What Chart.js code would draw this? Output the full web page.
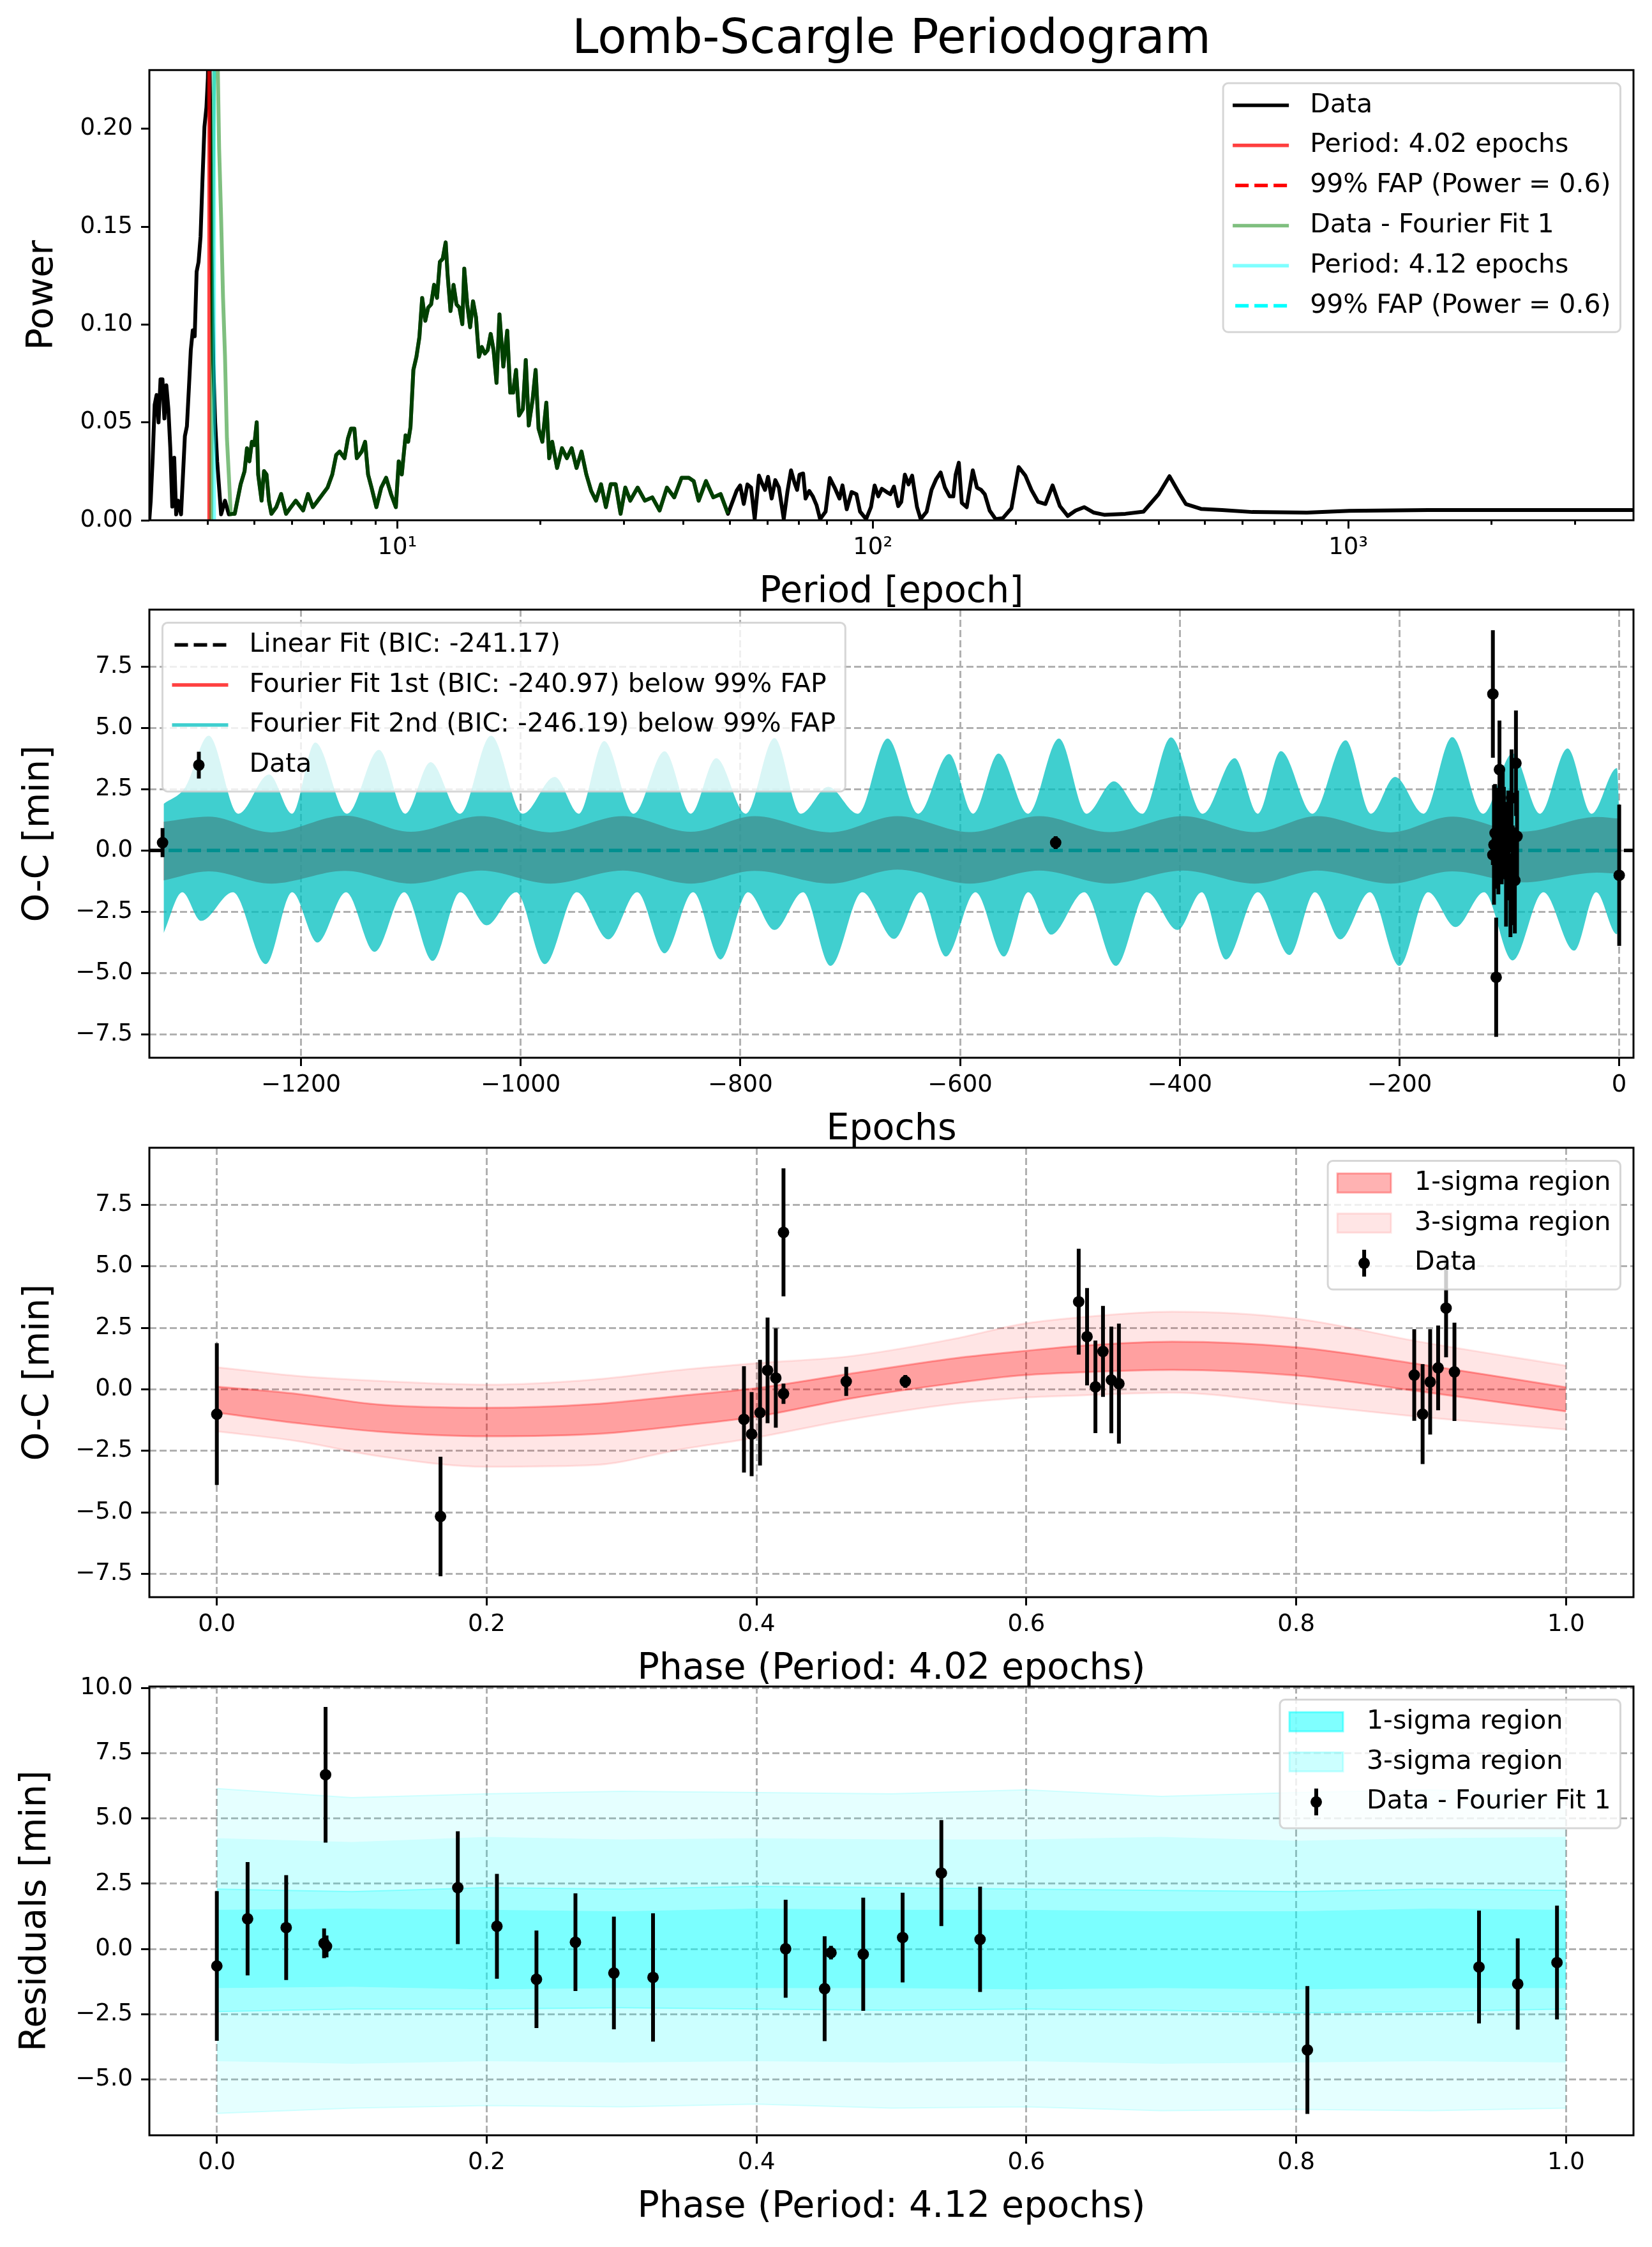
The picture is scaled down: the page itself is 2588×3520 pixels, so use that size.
<!DOCTYPE html>
<html>
<head>
<meta charset="utf-8">
<title>Lomb-Scargle Periodogram</title>
<script src="https://cdn.jsdelivr.net/npm/chart.js@4.4.1/dist/chart.umd.min.js"></script>
<style>
  body { margin: 0; background: #fff; }
  #page { position: relative; width: 2588px; height: 3520px; background: #fff; }
  canvas { position: absolute; left: 0; }
</style>
</head>
<body>
<div id="page">
  <canvas id="c1" width="2588" height="965" style="top:0px"></canvas>
  <canvas id="c2" width="2588" height="892" style="top:915px"></canvas>
  <canvas id="c3" width="2588" height="894" style="top:1758px"></canvas>
  <canvas id="c4" width="2588" height="893" style="top:2602px"></canvas>
</div>
<script>
// ---- periodogram ----
// black "Data" curve below ~4.5 epochs
const dataHeadPeriod = [3.009, 3.030, 3.059, 3.088, 3.117, 3.147, 3.177, 3.207, 3.237, 3.268, 3.300, 3.331, 3.363, 3.395, 3.427, 3.459, 3.509, 3.575, 3.610, 3.644, 3.679, 3.714, 3.749, 3.784, 3.820, 3.857, 3.893, 3.930, 3.968, 3.996, 4.017, 4.044, 4.063, 4.102, 4.140, 4.180, 4.260, 4.341, 4.423];
const dataHeadPower = [0.000, 0.010, 0.032, 0.059, 0.064, 0.050, 0.072, 0.072, 0.052, 0.069, 0.057, 0.037, 0.007, 0.032, 0.003, 0.010, 0.003, 0.043, 0.048, 0.067, 0.087, 0.097, 0.094, 0.127, 0.132, 0.145, 0.174, 0.201, 0.211, 0.226, 0.260, 0.200, 0.140, 0.080, 0.050, 0.030, 0.003, 0.010, 0.003];
// green "Data - Fourier Fit 1" spike near 4.12
const residHeadPeriod = [4.063, 4.102, 4.140, 4.180, 4.220, 4.260, 4.300, 4.341, 4.382, 4.423, 4.465];
const residHeadPower = [0.000, 0.200, 0.260, 0.250, 0.190, 0.155, 0.114, 0.084, 0.042, 0.023, 0.003];
// part where both curves lie on top of each other
const sharedPeriod = [4.508, 4.551, 4.683, 4.773, 4.829, 4.886, 4.945, 5.004, 5.062, 5.098, 5.183, 5.245, 5.308, 5.370, 5.435, 5.564, 5.698, 5.834, 5.973, 6.116, 6.338, 6.490, 6.644, 6.803, 6.967, 7.134, 7.299, 7.439, 7.563, 7.745, 7.874, 7.991, 8.123, 8.220, 8.416, 8.557, 8.680, 8.826, 9.036, 9.251, 9.473, 9.700, 9.93, 10.07, 10.22, 10.41, 10.54, 10.66, 10.81, 10.97, 11.13, 11.28, 11.45, 11.61, 11.78, 11.95, 12.12, 12.29, 12.46, 12.64, 12.76, 12.94, 13.13, 13.32, 13.51, 13.70, 13.83, 14.03, 14.23, 14.43, 14.64, 14.85, 15.06, 15.28, 15.49, 15.72, 15.94, 16.17, 16.40, 16.71, 17.03, 17.28, 17.52, 17.77, 18.03, 18.37, 18.63, 18.90, 19.26, 19.54, 19.82, 20.19, 20.58, 20.87, 21.17, 21.68, 22.20, 22.73, 23.27, 23.82, 24.40, 24.98, 25.57, 26.18, 26.82, 27.46, 28.11, 28.79, 29.48, 30.17, 30.90, 32.02, 33.17, 34.38, 35.62, 36.90, 38.23, 39.61, 41.04, 42.02, 43.03, 44.59, 46.19, 47.86, 49.60];
const sharedPower = [0.0033, 0.0033, 0.0184, 0.0251, 0.0368, 0.0301, 0.0401, 0.0384, 0.0501, 0.0234, 0.010, 0.0251, 0.0234, 0.010, 0.0033, 0.0067, 0.0134, 0.0033, 0.0067, 0.010, 0.005, 0.0134, 0.0067, 0.010, 0.0134, 0.0167, 0.0234, 0.0334, 0.0351, 0.0317, 0.0418, 0.0468, 0.0468, 0.0317, 0.0351, 0.0401, 0.0234, 0.0167, 0.0067, 0.0167, 0.0217, 0.0134, 0.0067, 0.0301, 0.0234, 0.0434, 0.0401, 0.0476, 0.0768, 0.0835, 0.0936, 0.1136, 0.1019, 0.1086, 0.1103, 0.1203, 0.1136, 0.1320, 0.1336, 0.1420, 0.1253, 0.1069, 0.1203, 0.1103, 0.1086, 0.1002, 0.1286, 0.1103, 0.0986, 0.1119, 0.1036, 0.0835, 0.0885, 0.0852, 0.0869, 0.0952, 0.0869, 0.0702, 0.1052, 0.0785, 0.0969, 0.0652, 0.0652, 0.0768, 0.0535, 0.0568, 0.0819, 0.0484, 0.0618, 0.0768, 0.0468, 0.0401, 0.0601, 0.0317, 0.0401, 0.0267, 0.0368, 0.0317, 0.0368, 0.0267, 0.0351, 0.0234, 0.0150, 0.010, 0.0184, 0.0067, 0.0184, 0.0184, 0.0033, 0.0167, 0.010, 0.0167, 0.010, 0.0117, 0.005, 0.0167, 0.0117, 0.0217, 0.0217, 0.020, 0.010, 0.020, 0.0117, 0.0134, 0.0033];
// black curve beyond ~50 epochs
const dataTailPeriod = [51.70, 52.61, 53.54, 54.50, 55.46, 56.45, 57.62, 58.47, 59.33, 60.21, 61.28, 62.37, 63.47, 64.98, 66.13, 67.31, 68.50, 69.32, 70.13, 71.37, 72.22, 73.51, 74.81, 76.14, 77.49, 79.57, 81.21, 83.14, 85.11, 86.36, 88.15, 90.25, 92.38, 94.04, 96.83, 99.13, 100.9, 102.7, 104.5, 107.0, 108.9, 110.8, 113.1, 114.8, 116.8, 118.9, 121.0, 123.9, 126.1, 129.8, 132.9, 136.0, 138.9, 141.8, 145.1, 147.7, 149.4, 151.7, 153.9, 157.6, 162.3, 165.6, 169.0, 172.0, 176.1, 181.3, 187.8, 195.7, 202.7, 209.4, 215.6, 222.7, 230.7, 238.9, 247.5, 257.1, 267.1, 278.3, 291.7, 306.6, 339.8, 371.0, 399.1, 420.7, 442.3, 455.4, 490.0, 543.0, 628.8, 818.8, 1005, 1472, 3980];
const dataTailPower = [0.0150, 0.0178, 0.0083, 0.0183, 0.0167, 0.0006, 0.0228, 0.0189, 0.0155, 0.0222, 0.0111, 0.0205, 0.0167, 0.0006, 0.0144, 0.0255, 0.0189, 0.0155, 0.0233, 0.0239, 0.0111, 0.0150, 0.0122, 0.0078, 0.0006, 0.0044, 0.0216, 0.0167, 0.0111, 0.0178, 0.0056, 0.0144, 0.0133, 0.0044, 0.0006, 0.0067, 0.0178, 0.0122, 0.0161, 0.0144, 0.0133, 0.0172, 0.0072, 0.0094, 0.0233, 0.0183, 0.0228, 0.0067, 0.0006, 0.0044, 0.0155, 0.0211, 0.0244, 0.0167, 0.0122, 0.0122, 0.0233, 0.0294, 0.0089, 0.0067, 0.0255, 0.0167, 0.0155, 0.0133, 0.0050, 0.0006, 0.0011, 0.0061, 0.0272, 0.0228, 0.0155, 0.0094, 0.0083, 0.0178, 0.0072, 0.0022, 0.0050, 0.0067, 0.0039, 0.0028, 0.0033, 0.0044, 0.0133, 0.0225, 0.0133, 0.0083, 0.0058, 0.0052, 0.0042, 0.0039, 0.0048, 0.0052, 0.0052];
const bestPeriod1 = 4.02;
const bestPeriod2 = 4.12;
const fapPower = 0.6;

// ---- timing residuals ----
const obsEpoch = [0, -93, -94, -95, -97, -98, -99, -101, -102, -103, -105, -106, -107, -109, -110, -111, -112, -113, -114, -115, -115, -513, -1326];
const obsOC = [-1.01, 0.58, 3.56, -1.22, -1.01, 2.14, -1.82, 0.30, 0.10, -0.95, 0.87, 1.54, 0.77, 3.30, 0.38, 0.46, -5.17, 0.71, 0.23, 6.38, -0.18, 0.32, 0.32];
const obsErr = [2.88, 1.86, 2.15, 2.16, 2.03, 1.98, 1.71, 2.14, 1.88, 2.15, 1.72, 1.85, 2.15, 2.00, 2.17, 2.02, 2.43, 2.00, 2.44, 2.60, 0.41, 0.26, 0.59];
const obsPhase1 = [0.0, 0.8875, 0.6388, 0.3907, 0.8937, 0.6450, 0.3964, 0.8993, 0.6512, 0.4026, 0.9052, 0.6568, 0.4082, 0.9111, 0.6630, 0.4143, 0.1658, 0.9173, 0.6686, 0.4200, 0.4200, 0.5103, 0.4665];

// Fourier fit 1 (red) envelope vs epoch
const fit1Epoch = [-1325, -1284, -1227, -1160, -1100, -1036, -973, -907, -845, -787, -718, -657, -591, -528, -464, -397, -332, -275, -208, -152, -88, -20, 0];
const fit1Top = [1.17, 1.38, 0.74, 1.42, 0.76, 1.40, 0.74, 1.40, 0.76, 1.40, 0.74, 1.40, 0.75, 1.40, 0.75, 1.40, 0.75, 1.40, 0.74, 1.38, 0.77, 1.37, 1.30];
const fit1Bottom = [-1.22, -0.85, -1.35, -0.83, -1.35, -0.82, -1.35, -0.82, -1.35, -0.83, -1.35, -0.78, -1.35, -0.82, -1.35, -0.82, -1.35, -0.82, -1.35, -0.85, -1.30, -0.90, -0.95];
// Fourier fit 2 (cyan) envelope vs epoch
const fit2TopEpoch = [-1325, -1305, -1284, -1257, -1229, -1208, -1187, -1158, -1129, -1105, -1082, -1055, -1027, -998, -969, -947, -924, -897, -869, -845, -822, -795, -769, -745, -720, -693, -666, -638, -610, -588, -565, -538, -510, -485, -460, -434, -408, -379, -350, -329, -308, -279, -249, -226, -204, -178, -152, -124, -97, -72, -47, -25, -2, 0];
const fit2Top = [1.9, 2.6, 4.68, 1.5, 3.1, 1.5, 4.4, 1.5, 4.1, 1.5, 3.6, 1.5, 4.68, 1.5, 3.0, 1.5, 4.46, 1.5, 4.04, 1.5, 3.76, 1.5, 4.58, 1.5, 2.6, 1.5, 4.56, 1.5, 3.93, 1.5, 3.95, 1.5, 4.56, 1.5, 2.82, 1.5, 4.61, 1.5, 3.76, 1.5, 4.05, 1.5, 4.49, 1.5, 3.0, 1.5, 4.62, 1.5, 3.96, 1.5, 4.16, 1.5, 3.36, 1.6];
const fit2BottomEpoch = [-1325, -1308, -1291, -1262, -1232, -1208, -1185, -1159, -1133, -1106, -1080, -1055, -1031, -1004, -978, -949, -920, -894, -869, -843, -818, -793, -769, -743, -718, -689, -660, -636, -613, -586, -560, -538, -517, -487, -458, -430, -402, -380, -358, -329, -300, -277, -254, -227, -200, -174, -149, -123, -97, -69, -41, -21, -2, 0];
const fit2Bottom = [-3.37, -1.7, -2.87, -1.7, -4.63, -1.7, -3.75, -1.7, -4.13, -1.7, -4.5, -1.7, -3.05, -1.7, -4.63, -1.7, -3.62, -1.7, -4.19, -1.7, -4.44, -1.7, -3.24, -1.7, -4.7, -1.7, -3.6, -1.7, -4.32, -1.7, -4.32, -1.7, -3.43, -1.7, -4.7, -1.7, -3.24, -1.7, -4.44, -1.7, -4.26, -1.7, -3.62, -1.7, -4.7, -1.7, -3.12, -1.7, -4.48, -1.7, -4.08, -1.7, -3.41, -1.8];

// phase-folded model bands (period 4.02)
const bandPhase1 = [0, 0.06, 0.12, 0.2, 0.28, 0.344, 0.40, 0.47, 0.548, 0.595, 0.64, 0.708, 0.80, 0.891, 1.0];
const sig1Upper = [0.11, -0.19, -0.62, -0.75, -0.60, -0.26, 0.05, 0.64, 1.27, 1.54, 1.77, 1.94, 1.71, 1.02, 0.08];
const sig1Lower = [-0.95, -1.38, -1.72, -1.91, -1.82, -1.48, -1.11, -0.37, 0.26, 0.56, 0.69, 0.79, 0.56, -0.08, -0.90];
const sig3Upper = [0.90, 0.54, 0.34, 0.19, 0.40, 0.79, 1.06, 1.35, 2.07, 2.64, 2.93, 3.16, 2.87, 1.94, 0.96];
const sig3Lower = [-1.71, -2.11, -2.72, -3.15, -3.08, -2.44, -1.96, -1.22, -0.58, -0.35, -0.25, -0.14, -0.60, -1.12, -1.64];

// residuals after fit 1, folded on period 4.12
const resPhase = [0.0, 0.0228, 0.0514, 0.0806, 0.0795, 0.0813, 0.1786, 0.2076, 0.2369, 0.2658, 0.2943, 0.3233, 0.4216, 0.4505, 0.4552, 0.4791, 0.5083, 0.537, 0.5657, 0.8083, 0.9355, 0.9642, 0.9933];
const resValue = [-0.65, 1.16, 0.82, 6.68, 0.22, 0.10, 2.35, 0.87, -1.16, 0.26, -0.92, -1.09, 0.01, -1.52, -0.14, -0.20, 0.44, 2.91, 0.37, -3.87, -0.69, -1.34, -0.52];
const resErr = [2.87, 2.17, 2.01, 2.60, 0.57, 0.42, 2.16, 2.01, 1.87, 1.87, 2.16, 2.46, 1.88, 2.01, 0.26, 2.17, 1.72, 2.03, 2.02, 2.45, 2.16, 1.75, 2.18];
// residual model bands: inner (solid) and outer (ragged) edges
const bandPhase2 = [0, 0.1, 0.2, 0.3, 0.4, 0.5, 0.6, 0.7, 0.8, 0.9, 1.0];
const r3UpOuter = [6.15, 5.80, 5.95, 6.05, 6.00, 5.95, 6.10, 5.85, 6.00, 6.10, 5.90];
const r3UpInner = [4.25, 4.10, 4.30, 4.20, 4.25, 4.20, 4.20, 4.30, 4.15, 4.25, 4.30];
const r3LoInner = [-4.30, -4.40, -4.30, -4.35, -4.30, -4.35, -4.30, -4.40, -4.35, -4.30, -4.35];
const r3LoOuter = [-6.30, -6.10, -6.00, -6.05, -5.95, -6.10, -6.05, -6.20, -6.15, -6.20, -6.10];
const r1UpOuter = [2.30, 2.20, 2.35, 2.30, 2.40, 2.35, 2.30, 2.25, 2.20, 2.30, 2.25];
const r1UpInner = [1.50, 1.55, 1.50, 1.45, 1.55, 1.50, 1.50, 1.45, 1.45, 1.55, 1.50];
const r1LoInner = [-1.50, -1.45, -1.55, -1.50, -1.50, -1.50, -1.55, -1.50, -1.55, -1.50, -1.50];
const r1LoOuter = [-2.40, -2.30, -2.30, -2.25, -2.30, -2.35, -2.30, -2.35, -2.45, -2.40, -2.30];

// ---- ticks ----
const periodMajor = [10, 100, 1000];
const periodMinor = [4, 5, 6, 7, 8, 9, 20, 30, 40, 50, 60, 70, 80, 90, 200, 300, 400, 500, 600, 700, 800, 900, 2000, 3000];
const periodLabels = {10: '10\u00b9', 100: '10\u00b2', 1000: '10\u00b3'};
const powerTicks = [0, 0.05, 0.10, 0.15, 0.20];
const epochTicks = [-1200, -1000, -800, -600, -400, -200, 0];
const ocTicks = [-7.5, -5.0, -2.5, 0.0, 2.5, 5.0, 7.5];
const phaseTicks = [0, 0.2, 0.4, 0.6, 0.8, 1.0];
const resTicks = [-5.0, -2.5, 0.0, 2.5, 5.0, 7.5, 10.0];

Chart.defaults.font.family = '"DejaVu Sans", sans-serif';
Chart.defaults.font.size = 37;
Chart.defaults.color = '#000';

const pts = (xs, ys) => xs.map((x, i) => ({x: x, y: ys[i]}));
function errSegs(xs, ys, es) {
  const out = [];
  xs.forEach((x, i) => {
    out.push({x: x, y: ys[i] - es[i]}, {x: x, y: ys[i] + es[i]}, {x: x, y: null});
  });
  return out;
}
const fmt = (v, d) => (v < -1e-9 ? '\u2212' : '') + Math.abs(v).toFixed(d);

// spines on all four sides
const framePlugin = {
  id: 'frame',
  afterDatasetsDraw(chart) {
    const a = chart.chartArea, ctx = chart.ctx;
    ctx.save();
    ctx.strokeStyle = '#000';
    ctx.lineWidth = 3;
    ctx.strokeRect(a.left, a.top, a.right - a.left, a.bottom - a.top);
    ctx.restore();
  }
};

// matplotlib-like legend box
const legends = {};
const legendPlugin = {
  id: 'mplLegend',
  afterDraw(chart) {
    const cfg = legends[chart.canvas.id];
    if (!cfg) return;
    const ctx = chart.ctx, a = chart.chartArea;
    const pad = 15, handleW = 88, gap = 33, pitch = 62.8;
    ctx.save();
    ctx.font = '41px "DejaVu Sans"';
    let tw = 0;
    cfg.items.forEach(it => { tw = Math.max(tw, ctx.measureText(it.label).width); });
    const w = pad + handleW + gap + tw + pad;
    const h = 76 + (cfg.items.length - 1) * pitch;
    const x0 = cfg.loc === 'upper left' ? a.left + 20.5 : a.right - 20.5 - w;
    const y0 = a.top + 20.5;
    const r = 8;
    ctx.beginPath();
    ctx.moveTo(x0 + r, y0);
    ctx.arcTo(x0 + w, y0, x0 + w, y0 + h, r);
    ctx.arcTo(x0 + w, y0 + h, x0, y0 + h, r);
    ctx.arcTo(x0, y0 + h, x0, y0, r);
    ctx.arcTo(x0, y0, x0 + w, y0, r);
    ctx.closePath();
    ctx.fillStyle = 'rgba(255,255,255,0.8)';
    ctx.fill();
    ctx.lineWidth = 3;
    ctx.strokeStyle = 'rgba(204,204,204,0.8)';
    ctx.stroke();
    cfg.items.forEach((it, i) => {
      const cy = y0 + 34.7 + i * pitch;
      const hx = x0 + pad;
      ctx.save();
      if (it.type === 'line') {
        ctx.strokeStyle = it.color;
        ctx.lineWidth = 5.5;
        ctx.setLineDash(it.dash || []);
        ctx.beginPath();
        ctx.moveTo(hx + (it.dash ? 4 : 0), cy);
        ctx.lineTo(hx + handleW, cy);
        ctx.stroke();
      } else if (it.type === 'patch') {
        ctx.fillStyle = it.color;
        ctx.fillRect(hx, cy - 15, 84, 30);
        ctx.strokeStyle = it.color;
        ctx.lineWidth = 3;
        ctx.strokeRect(hx, cy - 15, 84, 30);
      } else {
        ctx.strokeStyle = '#000';
        ctx.lineWidth = 6;
        ctx.beginPath();
        ctx.moveTo(hx + 42, cy - 21);
        ctx.lineTo(hx + 42, cy + 21);
        ctx.stroke();
        ctx.fillStyle = '#000';
        ctx.beginPath();
        ctx.arc(hx + 42, cy, 9, 0, Math.PI * 2);
        ctx.fill();
      }
      ctx.restore();
      ctx.fillStyle = '#000';
      ctx.textAlign = 'left';
      ctx.textBaseline = 'middle';
      ctx.fillText(it.label, hx + handleW + gap, cy);
    });
    ctx.restore();
  }
};

function xAxis(o) {
  return {
    type: o.type || 'linear', position: 'bottom', min: o.min, max: o.max,
    afterFit: s => { s.height = 150; },
    afterBuildTicks: s => { s.ticks = o.ticks.map(v => ({value: v})); },
    grid: {
      drawOnChartArea: o.grid, drawTicks: true, tickLength: 13, tickColor: '#000', tickWidth: 3,
      color: '#b0b0b0', lineWidth: 3,
      tickBorderDash: o.tickDash || []
    },
    border: {display: false, dash: [11, 5]},
    ticks: {font: {size: 37}, padding: 8, maxRotation: 0, minRotation: 0, autoSkip: false, callback: o.label},
    title: {display: true, text: o.title, font: {size: 57}, padding: {top: 0, bottom: 3}}
  };
}
function yAxis(o) {
  return {
    type: 'linear', position: 'left', min: o.min, max: o.max,
    afterFit: s => { s.width = 234; },
    afterBuildTicks: s => { s.ticks = o.ticks.map(v => ({value: v})); },
    grid: {
      drawOnChartArea: o.grid, drawTicks: true, tickLength: 13, tickColor: '#000', tickWidth: 3,
      color: '#b0b0b0', lineWidth: 3
    },
    border: {display: false, dash: [11, 5]},
    ticks: {font: {size: 37}, padding: 13, autoSkip: false, callback: o.label},
    title: {display: true, text: o.title, font: {size: 57}, padding: {top: o.titlePad, bottom: 0}}
  };
}
function baseOptions(scales, topPad, extraPlugins) {
  return {
    responsive: false, animation: false, devicePixelRatio: 1, events: [],
    layout: {padding: {top: topPad, right: 29, bottom: 0, left: 0}, autoPadding: false},
    elements: {point: {radius: 0}, line: {borderJoinStyle: 'round'}},
    plugins: Object.assign({legend: {display: false}, tooltip: {enabled: false}}, extraPlugins || {}),
    scales: scales
  };
}
const lineDs = (data, color, width, order, extra) => Object.assign({
  type: 'line', data: data, borderColor: color, borderWidth: width, pointRadius: 0, fill: false, order: order
}, extra || {});
const bandEdge = (data, fillColor, edgeColor, edgeWidth, fill, order, extra) => Object.assign({
  type: 'line', data: data, borderColor: edgeColor, borderWidth: edgeWidth, pointRadius: 0,
  backgroundColor: fillColor, fill: fill, order: order
}, extra || {});
const errDs = (data) => ({type: 'line', data: data, borderColor: '#000', borderWidth: 6, pointRadius: 0, spanGaps: false, fill: false, borderCapStyle: 'butt', order: 2});
const dotDs = (data) => ({type: 'line', data: data, showLine: false, pointRadius: 9, pointBackgroundColor: '#000', pointBorderWidth: 0, order: 1});
const smooth = {cubicInterpolationMode: 'monotone'};

// ---------- panel 1: periodogram ----------
const dataCurve = pts(dataHeadPeriod.concat(sharedPeriod, dataTailPeriod), dataHeadPower.concat(sharedPower, dataTailPower));
const residCurve = pts(residHeadPeriod.concat(sharedPeriod), residHeadPower.concat(sharedPower));
const pMin = 3.01, pMax = 3980, powMax = 0.23;

legends.c1 = {loc: 'upper right', items: [
  {type: 'line', color: '#000', label: 'Data'},
  {type: 'line', color: 'rgba(255,0,0,0.75)', label: 'Period: 4.02 epochs'},
  {type: 'line', color: '#ff0000', dash: [21, 9], label: '99% FAP (Power = 0.6)'},
  {type: 'line', color: 'rgba(0,128,0,0.5)', label: 'Data - Fourier Fit 1'},
  {type: 'line', color: 'rgba(0,255,255,0.5)', label: 'Period: 4.12 epochs'},
  {type: 'line', color: '#00ffff', dash: [21, 9], label: '99% FAP (Power = 0.6)'}
]};

new Chart(document.getElementById('c1'), {
  type: 'line',
  data: {datasets: [
    lineDs(dataCurve, '#000', 6, 6),
    lineDs([{x: bestPeriod1, y: 0}, {x: bestPeriod1, y: powMax}], 'rgba(255,0,0,0.75)', 5.5, 5),
    lineDs([{x: pMin, y: fapPower}, {x: pMax, y: fapPower}], '#ff0000', 5.5, 4, {borderDash: [21, 9]}),
    lineDs(residCurve, 'rgba(0,128,0,0.5)', 6, 3),
    lineDs([{x: bestPeriod2, y: 0}, {x: bestPeriod2, y: powMax}], 'rgba(0,255,255,0.5)', 5.5, 2),
    lineDs([{x: pMin, y: fapPower}, {x: pMax, y: fapPower}], '#00ffff', 5.5, 1, {borderDash: [21, 9]})
  ]},
  options: baseOptions({
    x: xAxis({type: 'logarithmic', min: pMin, max: pMax, grid: false,
      ticks: periodMinor.concat(periodMajor).sort((a, b) => a - b),
      tickDash: ctx => (periodLabels[ctx.tick && ctx.tick.value] ? [] : [7, 40]),
      label: v => periodLabels[v] || '', title: 'Period [epoch]'}),
    y: yAxis({min: 0, max: powMax, grid: false, ticks: powerTicks, label: v => fmt(v, 2), title: 'Power', titlePad: 33})
  }, 0, {title: {display: true, text: 'Lomb-Scargle Periodogram', fullSize: false, color: '#000',
    font: {size: 74, weight: 'normal'}, padding: {top: 19, bottom: 2}}}),
  plugins: [framePlugin, legendPlugin]
});

// ---------- panel 2: O-C vs epoch ----------
legends.c2 = {loc: 'upper left', items: [
  {type: 'line', color: '#000', dash: [21, 9], label: 'Linear Fit (BIC: -241.17)'},
  {type: 'line', color: 'rgba(255,0,0,0.75)', label: 'Fourier Fit 1st (BIC: -240.97) below 99% FAP'},
  {type: 'line', color: 'rgba(0,191,191,0.75)', label: 'Fourier Fit 2nd (BIC: -246.19) below 99% FAP'},
  {type: 'err', label: 'Data'}
]};
const epochMin = -1338, epochMax = 13;
new Chart(document.getElementById('c2'), {
  type: 'line',
  data: {datasets: [
    bandEdge(pts(fit1Epoch, fit1Top), 'rgba(255,0,0,0.75)', 'rgba(0,0,0,0)', 0, '+1', 20, smooth),
    bandEdge(pts(fit1Epoch, fit1Bottom), 'rgba(0,0,0,0)', 'rgba(0,0,0,0)', 0, false, 19, smooth),
    lineDs([{x: epochMin, y: 0}, {x: epochMax, y: 0}], '#000', 5.5, 15, {borderDash: [21, 9]}),
    bandEdge(pts(fit2TopEpoch, fit2Top), 'rgba(0,191,191,0.75)', 'rgba(0,0,0,0)', 0, '+1', 10, smooth),
    bandEdge(pts(fit2BottomEpoch, fit2Bottom), 'rgba(0,0,0,0)', 'rgba(0,0,0,0)', 0, false, 9, smooth),
    errDs(errSegs(obsEpoch, obsOC, obsErr)),
    dotDs(pts(obsEpoch, obsOC))
  ]},
  options: baseOptions({
    x: xAxis({min: epochMin, max: epochMax, grid: true, ticks: epochTicks, label: v => fmt(v, 0), title: 'Epochs'}),
    y: yAxis({min: -8.45, max: 9.82, grid: true, ticks: ocTicks, label: v => fmt(v, 1), title: 'O-C [min]', titlePad: 27})
  }, 40),
  plugins: [framePlugin, legendPlugin]
});

// ---------- panel 3: O-C folded on 4.02 ----------
legends.c3 = {loc: 'upper right', items: [
  {type: 'patch', color: 'rgba(255,0,0,0.3)', label: '1-sigma region'},
  {type: 'patch', color: 'rgba(255,0,0,0.1)', label: '3-sigma region'},
  {type: 'err', label: 'Data'}
]};
new Chart(document.getElementById('c3'), {
  type: 'line',
  data: {datasets: [
    bandEdge(pts(bandPhase1, sig3Upper), 'rgba(255,0,0,0.1)', 'rgba(255,0,0,0.1)', 3, '+1', 20, smooth),
    bandEdge(pts(bandPhase1, sig3Lower), 'rgba(0,0,0,0)', 'rgba(255,0,0,0.1)', 3, false, 19, smooth),
    bandEdge(pts(bandPhase1, sig1Upper), 'rgba(255,0,0,0.3)', 'rgba(255,0,0,0.3)', 3, '+1', 18, smooth),
    bandEdge(pts(bandPhase1, sig1Lower), 'rgba(0,0,0,0)', 'rgba(255,0,0,0.3)', 3, false, 17, smooth),
    errDs(errSegs(obsPhase1, obsOC, obsErr)),
    dotDs(pts(obsPhase1, obsOC))
  ]},
  options: baseOptions({
    x: xAxis({min: -0.05, max: 1.05, grid: true, ticks: phaseTicks, label: v => fmt(v, 1), title: 'Phase (Period: 4.02 epochs)'}),
    y: yAxis({min: -8.45, max: 9.82, grid: true, ticks: ocTicks, label: v => fmt(v, 1), title: 'O-C [min]', titlePad: 27})
  }, 40),
  plugins: [framePlugin, legendPlugin]
});

// ---------- panel 4: residuals folded on 4.12 ----------
legends.c4 = {loc: 'upper right', items: [
  {type: 'patch', color: 'rgba(0,255,255,0.5)', label: '1-sigma region'},
  {type: 'patch', color: 'rgba(0,255,255,0.2)', label: '3-sigma region'},
  {type: 'err', label: 'Data - Fourier Fit 1'}
]};
new Chart(document.getElementById('c4'), {
  type: 'line',
  data: {datasets: [
    bandEdge(pts(bandPhase2, r3UpOuter), 'rgba(0,255,255,0.1)', 'rgba(0,255,255,0.15)', 2, '+1', 30),
    bandEdge(pts(bandPhase2, r3UpInner), 'rgba(0,255,255,0.2)', 'rgba(0,0,0,0)', 0, '+1', 29),
    bandEdge(pts(bandPhase2, r3LoInner), 'rgba(0,255,255,0.1)', 'rgba(0,0,0,0)', 0, '+1', 28),
    bandEdge(pts(bandPhase2, r3LoOuter), 'rgba(0,0,0,0)', 'rgba(0,255,255,0.15)', 2, false, 27),
    bandEdge(pts(bandPhase2, r1UpOuter), 'rgba(0,255,255,0.2)', 'rgba(0,255,255,0.3)', 2, '+1', 26),
    bandEdge(pts(bandPhase2, r1UpInner), 'rgba(0,255,255,0.4)', 'rgba(0,0,0,0)', 0, '+1', 25),
    bandEdge(pts(bandPhase2, r1LoInner), 'rgba(0,255,255,0.2)', 'rgba(0,0,0,0)', 0, '+1', 24),
    bandEdge(pts(bandPhase2, r1LoOuter), 'rgba(0,0,0,0)', 'rgba(0,255,255,0.3)', 2, false, 23),
    errDs(errSegs(resPhase, resValue, resErr)),
    dotDs(pts(resPhase, resValue))
  ]},
  options: baseOptions({
    x: xAxis({min: -0.05, max: 1.05, grid: true, ticks: phaseTicks, label: v => fmt(v, 1), title: 'Phase (Period: 4.12 epochs)'}),
    y: yAxis({min: -7.14, max: 10.06, grid: true, ticks: resTicks, label: v => fmt(v, 1), title: 'Residuals [min]', titlePad: 22})
  }, 40),
  plugins: [framePlugin, legendPlugin]
});
</script>
</body>
</html>
